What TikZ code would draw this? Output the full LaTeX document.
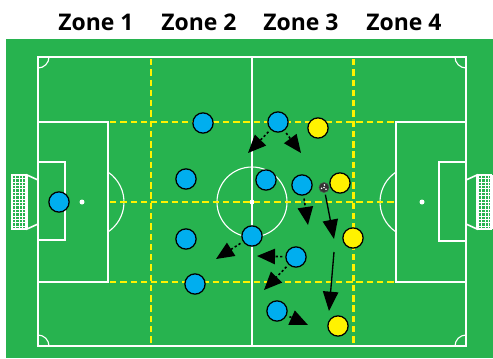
\documentclass[tikz,border=0pt]{standalone}
\usepackage{fontspec}
\setmainfont{Open Sans}
\usetikzlibrary{arrows.meta}

\definecolor{pitch}{HTML}{27B34F}
\definecolor{teamblue}{HTML}{00AEEF}
\definecolor{teamyellow}{HTML}{FFF200}
\definecolor{zoneline}{HTML}{FFF200}

\tikzset{
    fieldline/.style={white, line width=0.85pt},
    netline/.style={white, line width=0.45pt},
    zonedash/.style={zoneline, line width=2pt, dash pattern=on 4.8pt off 2.9pt},
    blueplayer/.style={circle, draw=black, line width=0.95pt, fill=teamblue, minimum size=15.2pt, inner sep=0pt},
    yellowplayer/.style={circle, draw=black, line width=0.95pt, fill=teamyellow, minimum size=15.2pt, inner sep=0pt},
    zonelabel/.style={font=\bfseries\fontsize{17.2}{19}\selectfont, text=black},
    run/.style={black, line width=1.2pt, dash pattern=on 1.7pt off 1.7pt, shorten <=2.2pt, -{Triangle[length=13.5pt,width=11.5pt]}},
    pass/.style={black, line width=1pt, -{Triangle[length=14.5pt,width=11.5pt]}}
}

\begin{document}
\begin{tikzpicture}[x=0.75pt,y=-0.75pt]

    \useasboundingbox (0,0) rectangle (493,358);

    % Sfondo del campo
    \fill[pitch] (6,39) rectangle (493,358);

    % Titoli delle zone
    \node[zonelabel] (Z1) at (96,22) {Zone 1};
    \node[zonelabel] (Z2) at (199,22) {Zone 2};
    \node[zonelabel] (Z3) at (301,22) {Zone 3};
    \node[zonelabel] (Z4) at (404,22) {Zone 4};

    % Linee del campo
    \draw[fieldline] (38,57) rectangle (466,346);
    \draw[fieldline] (252,57) -- (252,346);
    \draw[fieldline] (252,202) circle (35);
    \fill[white] (252,202) circle (2.5);
    \fill[white] (82,202) circle (2.5);
    \fill[white] (422,202) circle (2.5);

    % Aree di rigore e aree di porta
    \draw[fieldline] (38,122) rectangle (108,282);
    \draw[fieldline] (396,122) rectangle (466,282);
    \draw[fieldline] (38,162) rectangle (65,240);
    \draw[fieldline] (439,162) rectangle (466,241);
    \draw[fieldline] (88,202) ++(-56:36) arc (-56:56:36);
    \draw[fieldline] (416,202) ++(124:36) arc (124:236:36);

    % Bandierine
    \draw[fieldline] (49,57) arc (0:90:11);
    \draw[fieldline] (455,57) arc (180:90:11);
    \draw[fieldline] (49,346) arc (0:-90:11);
    \draw[fieldline] (455,346) arc (180:270:11);

    % Reti delle porte
    \foreach \x in {12,15.5,...,26} {
        \draw[netline] (\x,175) -- (\x,229);
        \draw[netline] (\x+466,175) -- (\x+466,229);
    }
    \foreach \y in {175,178.4,...,229.5} {
        \draw[netline] (12,\y) -- (26,\y);
        \draw[netline] (478,\y) -- (491,\y);
    }
    \draw[fieldline] (12,175) rectangle (26,229);
    \draw[fieldline] (478,175) rectangle (491,229);
    \draw[fieldline, line width=1.2pt] (38,180) -- (27,175) -- (27,229) -- (38,224);
    \draw[fieldline, line width=1.2pt] (466,180) -- (477,175) -- (477,229) -- (466,224);

    % Linee tratteggiate delle zone
    \draw[zonedash] (151,59) -- (151,346);
    \draw[zonedash] (353.5,59) -- (353.5,346);
    \foreach \y in {122,202,282} {
        \draw[zonedash] (110,\y) -- (394,\y);
    }

    % Giocatori blu
    \node[blueplayer] (B1) at (59,202) {};
    \node[blueplayer] (B2) at (203,123) {};
    \node[blueplayer] (B3) at (278,122) {};
    \node[blueplayer] (B4) at (186,179) {};
    \node[blueplayer] (B5) at (266,180) {};
    \node[blueplayer] (B6) at (302,185) {};
    \node[blueplayer] (B7) at (186,239) {};
    \node[blueplayer] (B8) at (252,236) {};
    \node[blueplayer] (B9) at (296,257) {};
    \node[blueplayer] (B10) at (195,284) {};
    \node[blueplayer] (B11) at (277,311) {};

    % Giocatori gialli
    \node[yellowplayer] (Y1) at (318,128) {};
    \node[yellowplayer] (Y2) at (340,183) {};
    \node[yellowplayer] (Y3) at (353,238) {};
    \node[yellowplayer] (Y4) at (338,326) {};

    % Pallone
    \node[circle, fill=black!80, draw=black!70, line width=0.4pt, minimum size=7.5pt, inner sep=0pt] (ball) at (324,187.5) {};
    \foreach \a in {40,160,280} {
        \fill[white] (ball.center) ++(\a:2.6) circle (0.9);
    }
    \fill[white] (ball.center) circle (0.8);

    % Punte delle frecce
    \coordinate (T1) at (248,153);
    \coordinate (T2) at (301,153);
    \coordinate (T3) at (308,225);
    \coordinate (T4) at (216,259);
    \coordinate (T5) at (257,256);
    \coordinate (T6) at (264,290);
    \coordinate (T7) at (308,325);
    \coordinate (T8) at (334,239);
    \coordinate (S9) at (334,252);
    \coordinate (T9) at (329,311);

    % Movimenti dei giocatori
    \draw[run] (B3) -- (T1);
    \draw[run] (B3) -- (T2);
    \draw[run] (B6) -- (T3);
    \draw[run] (B8) -- (T4);
    \draw[run] (B9) -- (T5);
    \draw[run] (B9) -- (T6);
    \draw[run] (B11) -- (T7);

    % Passaggi
    \draw[pass, shorten <=1.5pt] (ball) -- (T8);
    \draw[pass] (S9) -- (T9);

\end{tikzpicture}
\end{document}
